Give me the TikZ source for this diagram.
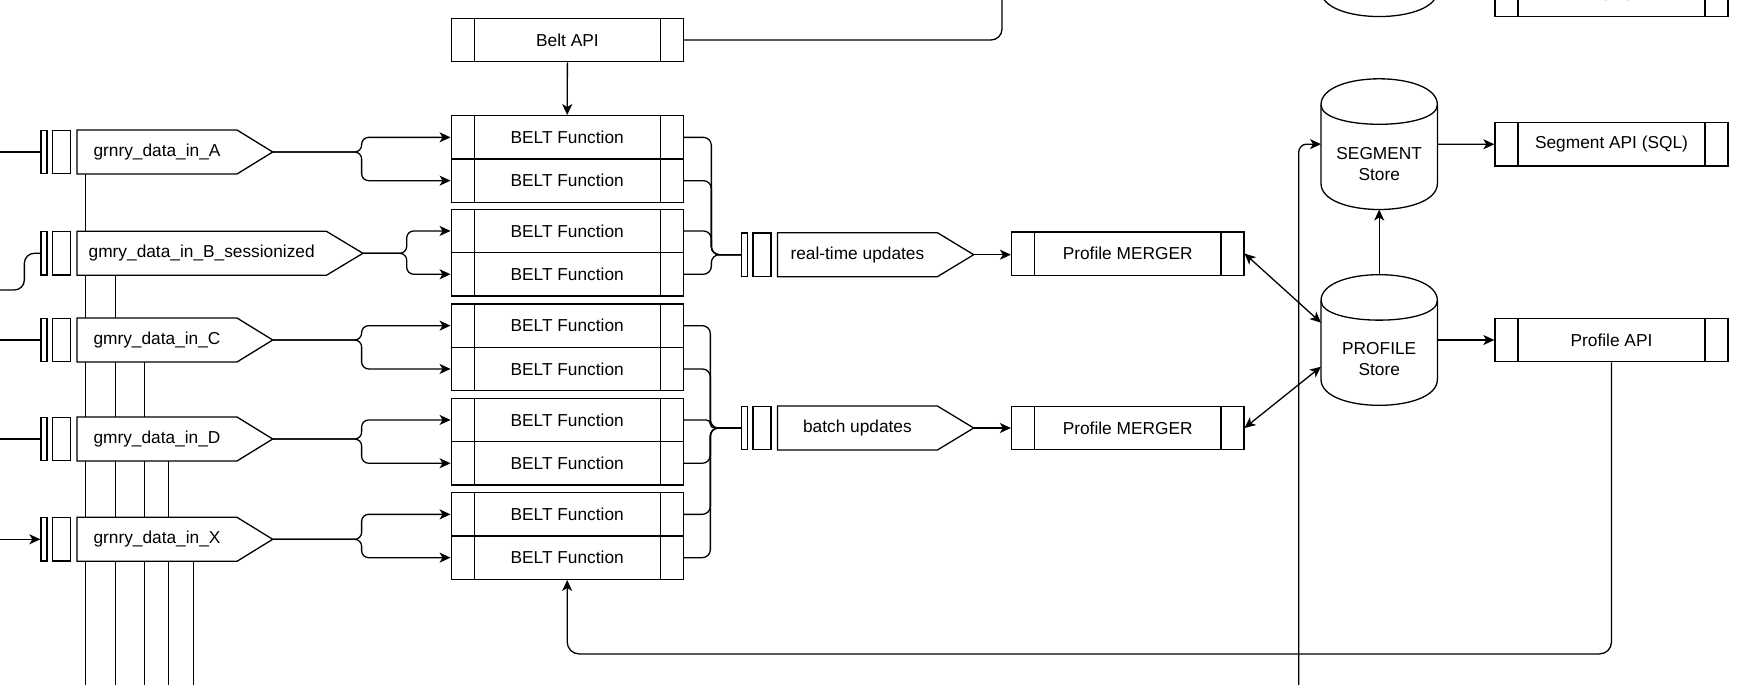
\documentclass[tikz,border=0pt]{standalone}
\usepackage{fontspec}
\setmainfont{Liberation Sans}
\usetikzlibrary{arrows.meta,calc}
\pgfdeclarelayer{bg}
\pgfdeclarelayer{lines}
\pgfdeclarelayer{shapes}
\pgfsetlayers{bg,lines,shapes,main}

\newcommand\mkbars[3]{%
  \node[qthin] (#1t) at (#2,#3) {};
  \node[qrect] (#1r) at ($(#2,#3)+(17.4,0)$) {};}

\newcommand\mkpent[6]{%
  \node[qtext, minimum width=#4pt, anchor=west] (#1) at (#2,#3) {#6};
  \begin{pgfonlayer}{shapes}
    \draw[ln, fill=white] (#1.north west) -- (#1.north east) -- ($(#1.east)+(#5,0)$) coordinate (#1tip) -- (#1.south east) -- (#1.south west) -- cycle;
  \end{pgfonlayer}}

\newcommand\mycyl[1]{%
  \draw[ln, fill=white] ($(#1.north west)+(0,26)$) .. controls ($(#1.north west)+(0,-8.67)$) and ($(#1.north east)+(0,-8.67)$) .. ($(#1.north east)+(0,26)$) -- ($(#1.south east)+(0,-26)$) .. controls ($(#1.south east)+(0,8.67)$) and ($(#1.south west)+(0,8.67)$) .. ($(#1.south west)+(0,-26)$) -- cycle;
  \draw[ln] ($(#1.north west)+(0,26)$) .. controls ($(#1.north west)+(0,52)$) and ($(#1.north east)+(0,52)$) .. ($(#1.north east)+(0,26)$);}

\begin{document}
\begin{tikzpicture}[x=1pt,y=-1pt,
  font=\fontsize{17.3}{21}\selectfont,
  ln/.style={line width=1.3pt, draw=black},
  tip/.style={-{Stealth[length=11pt,width=10pt,inset=3pt]}},
  arr/.style={ln, tip},
  darr/.style={ln, {Stealth[length=11pt,width=10pt,inset=3pt]}-{Stealth[length=11pt,width=10pt,inset=3pt]}},
  proc/.style={draw, line width=1.3pt, fill=white, minimum width=232pt, minimum height=43.3pt, inner sep=0pt,
    path picture={\draw[line width=1.3pt]
      ([xshift=23pt]path picture bounding box.north west) -- ([xshift=23pt]path picture bounding box.south west)
      ([xshift=-23pt]path picture bounding box.north east) -- ([xshift=-23pt]path picture bounding box.south east);}},
  qthin/.style={draw, line width=1.3pt, fill=white, minimum width=6pt, minimum height=43.6pt, inner sep=0pt},
  qrect/.style={draw, line width=1.3pt, fill=white, minimum width=18pt, minimum height=43.6pt, inner sep=0pt},
  qtext/.style={rectangle, draw=none, minimum height=43.6pt, inner sep=0pt},
  cylbox/.style={rectangle, draw=none, minimum width=116pt, minimum height=130.3pt, inner sep=0pt},
  cyltext/.style={align=center, inner sep=0pt}
]
\useasboundingbox (0,0) rectangle (1743,685);
\begin{pgfonlayer}{bg}
  \fill[white] (0,0) rectangle (1743,685);
\end{pgfonlayer}
\clip (0,0) rectangle (1743,685);

% ---------- input queues ----------
\mkbars{qa}{44}{152}
\mkpent{pa}{77}{152}{159.6}{35.7}{grnry\_data\_in\_A}
\mkbars{qb}{44}{253.3}
\mkpent{pb}{77}{253.3}{249}{36.5}{gmry\_data\_in\_B\_sessionized}
\mkbars{qc}{44}{340}
\mkpent{pc}{77}{340}{159.6}{35.7}{gmry\_data\_in\_C}
\mkbars{qd}{44}{439}
\mkpent{pd}{77}{439}{159.6}{35.7}{gmry\_data\_in\_D}
\mkbars{qx}{44}{539.3}
\mkpent{px}{77}{539.3}{159.6}{35.7}{grnry\_data\_in\_X}

% ---------- update queues ----------
\mkbars{qrt}{744.7}{254.7}
\mkpent{prt}{777.4}{254.7}{159.6}{36.3}{real-time updates}
\mkbars{qbt}{744.7}{428}
\mkpent{pbt}{777.4}{428}{159.6}{36.3}{batch updates}

% ---------- BELT ----------
\node[proc] (api) at (567.4,40) {Belt API};
\node[proc] (b11) at (567.2,137.35) {BELT Function};
\node[proc] (b12) at (567.2,180.65) {BELT Function};
\node[proc] (b21) at (567.2,230.95) {BELT Function};
\node[proc] (b22) at (567.2,274.25) {BELT Function};
\node[proc] (b31) at (567.2,325.65) {BELT Function};
\node[proc] (b32) at (567.2,368.95) {BELT Function};
\node[proc] (b41) at (567.2,419.95) {BELT Function};
\node[proc] (b42) at (567.2,463.25) {BELT Function};
\node[proc] (b51) at (567.2,514.35) {BELT Function};
\node[proc] (b52) at (567.2,557.65) {BELT Function};

% ---------- mergers and APIs ----------
\node[proc, minimum width=232.3pt] (m1) at (1127.7,253.5) {Profile MERGER};
\node[proc, minimum width=232.3pt] (m2) at (1127.7,428) {Profile MERGER};
\node[proc, minimum width=233pt] (sapi) at (1611.5,144.3) {Segment API (SQL)};
\node[proc, minimum width=233pt] (papi) at (1611.5,340) {Profile API};
\node[proc, minimum width=233pt] (topbox) at (1611.5,-5) {RETULCAR};

% ---------- stores ----------
\node[cylbox] (topcyl) at (1379.2,-48.8) {};
\mycyl{topcyl}
\node[cylbox] (seg) at (1379.2,144.15) {};
\mycyl{seg}
\node[cyltext] (segtxt) at ($(seg.center)+(0,19.5)$) {SEGMENT\\Store};
\node[cylbox] (prof) at (1379.2,340) {};
\mycyl{prof}
\node[cyltext] (proftxt) at ($(prof.center)+(0,19.5)$) {PROFILE\\Store};

% ---------- vertical lines below the input queues ----------
\begin{pgfonlayer}{lines}
  \draw[ln] ([xshift=8.7pt]pa.south west) -- ++(0,600);
  \draw[ln] ([xshift=38.2pt]pb.south west) -- ++(0,600);
  \draw[ln] ([xshift=67.2pt]pc.south west) -- ++(0,600);
  \draw[ln] ([xshift=91.7pt]pd.south west) -- ++(0,600);
  \draw[ln] ([xshift=116.3pt]px.south west) -- ++(0,600);
\end{pgfonlayer}

% ---------- inputs ----------
\coordinate (ina) at (-5,152);
\coordinate (inb) at (-5,290);
\coordinate (inc) at (-5,340);
\coordinate (ind) at (-5,439);
\coordinate (inx) at (-5,539.3);
\draw[ln] (ina) -- (qat.west);
\draw[ln, rounded corners=10pt] (inb) -| ($(qbt.west)+(-16,0)$) -- (qbt.west);
\draw[ln] (inc) -- (qct.west);
\draw[ln] (ind) -- (qdt.west);
\draw[arr] (inx) -- (qxt.west);

% ---------- splits into BELT functions ----------
\coordinate (sa) at ($(patip)!0.5!(patip -| b11.west)$);
\coordinate (sb) at ($(pbtip)!0.5!(pbtip -| b21.west)$);
\coordinate (sc) at ($(pctip)!0.5!(pctip -| b31.west)$);
\coordinate (sd) at ($(pdtip)!0.5!(pdtip -| b41.west)$);
\coordinate (sx) at ($(pxtip)!0.5!(pxtip -| b51.west)$);
\draw[arr, rounded corners=7pt] (patip) -| (sa |- b11.west) -- (b11.west);
\draw[arr, rounded corners=7pt] (patip) -| (sa |- b12.west) -- (b12.west);
\draw[arr, rounded corners=7pt] (pbtip) -| (sb |- b21.west) -- (b21.west);
\draw[arr, rounded corners=7pt] (pbtip) -| (sb |- b22.west) -- (b22.west);
\draw[arr, rounded corners=7pt] (pctip) -| (sc |- b31.west) -- (b31.west);
\draw[arr, rounded corners=7pt] (pctip) -| (sc |- b32.west) -- (b32.west);
\draw[arr, rounded corners=7pt] (pdtip) -| (sd |- b41.west) -- (b41.west);
\draw[arr, rounded corners=7pt] (pdtip) -| (sd |- b42.west) -- (b42.west);
\draw[arr, rounded corners=7pt] (pxtip) -| (sx |- b51.west) -- (b51.west);
\draw[arr, rounded corners=7pt] (pxtip) -| (sx |- b52.west) -- (b52.west);

% ---------- BELT outputs to update queues ----------
\coordinate (busrt) at ($(qrtt.west)+(-29.7,0)$);
\coordinate (busbt) at ($(qbtt.west)+(-30.7,0)$);
\draw[ln, rounded corners=8pt] (b11.east) -| (busrt) -- (qrtt.west);
\draw[ln, rounded corners=8pt] (b12.east) -| (busrt) -- (qrtt.west);
\draw[ln, rounded corners=8pt] (b21.east) -| (busrt) -- (qrtt.west);
\draw[ln, rounded corners=8pt] (b22.east) -| (busrt) -- (qrtt.west);
\draw[ln, rounded corners=8pt] (b31.east) -| (busbt) -- (qbtt.west);
\draw[ln, rounded corners=8pt] (b32.east) -| (busbt) -- (qbtt.west);
\draw[ln, rounded corners=4pt] (b41.east) -| (busbt) -- (qbtt.west);
\draw[ln, rounded corners=8pt] (b42.east) -| (busbt) -- (qbtt.west);
\draw[ln, rounded corners=8pt] (b51.east) -| (busbt) -- (qbtt.west);
\draw[ln, rounded corners=8pt] (b52.east) -| (busbt) -- (qbtt.west);

% ---------- API links ----------
\draw[arr] (api.south) -- (b11.north);
\coordinate (apiout) at (1002,-30);
\draw[ln, rounded corners=11pt] (api.east) -| (apiout);

% ---------- updates to mergers ----------
\draw[arr] (prttip) -- (prttip -| m1.west);
\draw[arr, line width=1.6pt] (pbttip) -- (m2.west);

% ---------- stores ----------
\draw[darr] (m1.east) -- ($(prof.west)+(0,-17.3)$);
\draw[darr] (m2.east) -- ($(prof.west)+(0,26.7)$);
\draw[arr] (prof.north) -- (seg.south);
\draw[arr] (seg.east) -- (sapi.west);
\draw[arr] (prof.east) -- (papi.west);
\coordinate (segin) at (1298.7,720);
\draw[arr, rounded corners=8pt] (segin) |- (seg.west);
\coordinate (fb) at ($(b52.south)+(0,74)$);
\draw[arr, rounded corners=12pt] (papi.south) |- (fb) -- (b52.south);
\end{tikzpicture}
\end{document}
